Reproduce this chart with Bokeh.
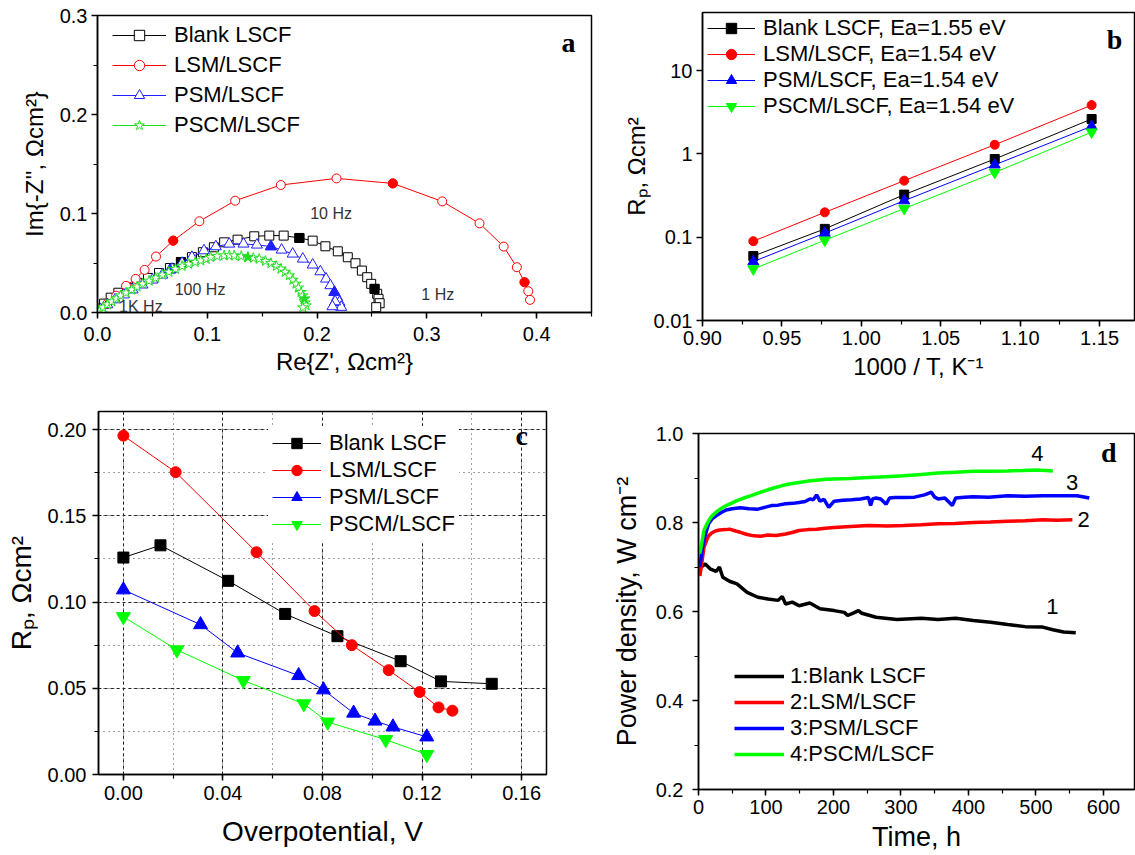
from bokeh.plotting import figure
from bokeh.layouts import column, row
from bokeh.models import (Range1d, SingleIntervalTicker, FixedTicker, PrintfTickFormatter,
                          CustomJSTickFormatter, Legend, LegendItem, Label)
from bokeh.embed import file_html
from bokeh.resources import INLINE

FONT = "Liberation Sans"
SERIF = "Liberation Serif"

# ---------------- data: panel a (Nyquist) ----------------
blank_re = [0.002, 0.006, 0.012, 0.019, 0.027, 0.036, 0.046, 0.056, 0.066, 0.076, 0.086, 0.096, 0.106,
            0.1154, 0.1276, 0.1428, 0.1565, 0.1696, 0.1839, 0.196, 0.2076, 0.2189, 0.228, 0.235,
            0.2408, 0.2457, 0.2493, 0.2524, 0.2548, 0.256, 0.257, 0.2539]
blank_im = [0.004, 0.009, 0.015, 0.020, 0.025, 0.030, 0.035, 0.040, 0.045, 0.051, 0.056, 0.061, 0.066,
            0.071, 0.0737, 0.0771, 0.0778, 0.0778, 0.0754, 0.0727, 0.067, 0.0619, 0.0559, 0.0498,
            0.0424, 0.0357, 0.029, 0.0239, 0.0189, 0.0138, 0.0094, 0.0054]
blank_fre = [0.076, 0.1839, 0.2524]
blank_fim = [0.051, 0.0754, 0.0239]

lsm_re = [0.003, 0.009, 0.017, 0.026, 0.0347, 0.0429, 0.0533, 0.069, 0.0928, 0.1254, 0.167, 0.2177,
          0.269, 0.314, 0.348, 0.370, 0.382, 0.389, 0.3924, 0.394]
lsm_im = [0.003, 0.009, 0.017, 0.027, 0.034, 0.0431, 0.0566, 0.0727, 0.0923, 0.1131, 0.129, 0.1357,
          0.1306, 0.1124, 0.0902, 0.0667, 0.0458, 0.0306, 0.0215, 0.0128]
lsm_fre = [0.069, 0.269, 0.389]
lsm_fim = [0.0727, 0.1306, 0.0306]

psm_re = [0.003, 0.009, 0.016, 0.024, 0.032, 0.041, 0.050, 0.059, 0.068, 0.077, 0.086, 0.097, 0.1078,
          0.12, 0.133, 0.1452, 0.158, 0.1677, 0.1778, 0.187, 0.196, 0.203, 0.2082, 0.2121, 0.2158,
          0.2183, 0.2204, 0.222, 0.2165, 0.214]
psm_im = [0.003, 0.008, 0.013, 0.018, 0.023, 0.028, 0.033, 0.038, 0.044, 0.050, 0.056, 0.0626, 0.0667,
          0.0694, 0.0694, 0.0684, 0.0667, 0.0633, 0.0593, 0.0542, 0.0482, 0.0414, 0.034, 0.0273, 0.0205,
          0.0155, 0.0104, 0.0054, 0.011, 0.006]
psm_fre = [0.066, 0.158, 0.2158]
psm_fim = [0.043, 0.0667, 0.0205]

pscm_re = [0.002, 0.005, 0.009, 0.013, 0.017, 0.021, 0.026, 0.031, 0.036, 0.041, 0.047, 0.053, 0.059,
           0.065, 0.071, 0.077, 0.083, 0.089, 0.094, 0.099, 0.103, 0.109, 0.1154, 0.120, 0.1245, 0.131,
           0.137, 0.142, 0.1473, 0.153, 0.158, 0.163, 0.1671, 0.171, 0.1747, 0.178, 0.1808, 0.183,
           0.1854, 0.187, 0.1884, 0.189, 0.19, 0.187]
pscm_im = [0.002, 0.005, 0.008, 0.011, 0.014, 0.017, 0.020, 0.023, 0.026, 0.029, 0.032, 0.035, 0.038,
           0.041, 0.044, 0.047, 0.049, 0.051, 0.0525, 0.054, 0.0559, 0.057, 0.0576, 0.0578, 0.0576,
           0.057, 0.0559, 0.0552, 0.0542, 0.052, 0.0498, 0.047, 0.0441, 0.041, 0.0374, 0.033, 0.029,
           0.025, 0.0205, 0.017, 0.0138, 0.010, 0.007, 0.005]
pscm_fre = [0.137, 0.1884]
pscm_fim = [0.0559, 0.0138]

# ---------------- data: panel b (Arrhenius) ----------------
inv_t = [0.932, 0.977, 1.027, 1.084, 1.145]
rp_blank = [0.0594, 0.126, 0.325, 0.87, 2.63]
rp_lsm = [0.0896, 0.199, 0.478, 1.29, 3.86]
rp_psm = [0.051, 0.112, 0.275, 0.74, 2.15]
rp_pscm = [0.0416, 0.092, 0.221, 0.60, 1.83]

# ---------------- data: panel c (overpotential) ----------------
eta_blank = [0.0, 0.0149, 0.0421, 0.0650, 0.0860, 0.1114, 0.1276, 0.1480]
rpc_blank = [0.1258, 0.1329, 0.1123, 0.0931, 0.0802, 0.0657, 0.0540, 0.0526]
eta_lsm = [0.0, 0.0210, 0.0535, 0.0768, 0.0918, 0.1066, 0.1190, 0.1266, 0.1322]
rpc_lsm = [0.1965, 0.1753, 0.1289, 0.0948, 0.0750, 0.0605, 0.0478, 0.0389, 0.0370]
eta_psm = [0.0, 0.0310, 0.0459, 0.0704, 0.0804, 0.0925, 0.1011, 0.1083, 0.1219]
rpc_psm = [0.1071, 0.0869, 0.0705, 0.0574, 0.0491, 0.0356, 0.0310, 0.0276, 0.0218]
eta_pscm = [0.0, 0.0215, 0.0482, 0.0725, 0.0821, 0.1054, 0.1219]
rpc_pscm = [0.0915, 0.0723, 0.0545, 0.0410, 0.0304, 0.0202, 0.0116]

# ---------------- data: panel d (stability) ----------------
t1 = [0, 4, 10, 18, 26, 31, 36, 46, 57, 72, 88, 103, 118, 124, 129, 139, 149, 165, 180, 201, 216, 221,
      230, 237, 242, 263, 294, 330, 355, 381, 407, 433, 458, 484, 510, 525, 541, 559]
pd1 = [0.69, 0.70, 0.707, 0.695, 0.69, 0.70, 0.677, 0.668, 0.662, 0.643, 0.632, 0.628, 0.625, 0.634,
       0.617, 0.621, 0.613, 0.619, 0.606, 0.602, 0.598, 0.591, 0.597, 0.602, 0.596, 0.587, 0.582, 0.585,
       0.582, 0.585, 0.580, 0.576, 0.571, 0.566, 0.565, 0.559, 0.554, 0.552]
t2 = [2, 5, 8, 12, 15, 20, 25, 31, 40, 46, 55, 62, 72, 82, 92, 103, 115, 129, 140, 149, 162, 175, 188,
      201, 225, 252, 280, 304, 330, 355, 380, 407, 432, 458, 484, 510, 530, 554]
pd2 = [0.68, 0.71, 0.744, 0.76, 0.770, 0.777, 0.781, 0.783, 0.784, 0.785, 0.781, 0.778, 0.773, 0.770,
       0.769, 0.772, 0.771, 0.774, 0.778, 0.782, 0.784, 0.785, 0.787, 0.789, 0.791, 0.793, 0.792, 0.793,
       0.795, 0.797, 0.798, 0.800, 0.801, 0.803, 0.804, 0.806, 0.805, 0.806]
t3 = [2, 5, 8, 12, 15, 20, 26, 33, 41, 50, 62, 75, 88, 98, 108, 118, 129, 140, 149, 158, 165, 170, 175,
      180, 186, 193, 201, 214, 227, 240, 252, 255, 258, 263, 270, 278, 283, 290, 304, 320, 335, 345,
      350, 355, 365, 376, 381, 394, 407, 430, 458, 484, 510, 535, 561, 579]
pd3 = [0.70, 0.735, 0.76, 0.782, 0.797, 0.808, 0.815, 0.822, 0.828, 0.831, 0.833, 0.831, 0.830, 0.834,
       0.838, 0.839, 0.842, 0.843, 0.845, 0.847, 0.853, 0.851, 0.862, 0.848, 0.852, 0.834, 0.848, 0.850,
       0.851, 0.853, 0.856, 0.838, 0.853, 0.855, 0.853, 0.841, 0.855, 0.856, 0.856, 0.857, 0.862, 0.868,
       0.857, 0.853, 0.855, 0.838, 0.855, 0.857, 0.858, 0.857, 0.860, 0.859, 0.860, 0.860, 0.860, 0.855]
t4 = [2, 5, 8, 12, 15, 20, 26, 33, 41, 50, 57, 67, 77, 88, 98, 110, 124, 137, 149, 162, 175, 188, 201,
      225, 252, 278, 304, 330, 355, 381, 407, 432, 458, 480, 500, 515, 525]
pd4 = [0.73, 0.755, 0.782, 0.795, 0.804, 0.815, 0.823, 0.831, 0.838, 0.844, 0.849, 0.855, 0.860, 0.866,
       0.871, 0.877, 0.883, 0.887, 0.890, 0.893, 0.895, 0.897, 0.898, 0.899, 0.901, 0.903, 0.905, 0.908,
       0.911, 0.913, 0.915, 0.915, 0.916, 0.917, 0.918, 0.917, 0.916]

names = ["Blank LSCF", "LSM/LSCF", "PSM/LSCF", "PSCM/LSCF"]
names_b = ["Blank LSCF, Ea=1.55 eV", "LSM/LSCF, Ea=1.54 eV", "PSM/LSCF, Ea=1.54 eV", "PSCM/LSCF, Ea=1.54 eV"]
names_d = ["1:Blank LSCF", "2:LSM/LSCF", "3:PSM/LSCF", "4:PSCM/LSCF"]

BLACK, RED, BLUE, GREEN = "#000000", "#ff0000", "#0000ff", "#00ff00"
ITEM_H = 26


def style(p, xlabel, ylabel, title_size, xst, yst, xtst, ytst):
    p.outline_line_color = "black"
    p.outline_line_width = 1.5
    p.background_fill_color = "white"
    p.border_fill_color = "white"
    p.xaxis[0].axis_label = xlabel
    p.yaxis[0].axis_label = ylabel
    for ax, st, tst in ((p.xaxis[0], xst, xtst), (p.yaxis[0], yst, ytst)):
        ax.axis_line_width = 1.5
        ax.major_tick_line_width = 1.5
        ax.minor_tick_line_width = 1.2
        ax.major_tick_out = 6
        ax.major_tick_in = 0
        ax.minor_tick_out = 4
        ax.minor_tick_in = 0
        ax.major_label_text_font = FONT
        ax.major_label_text_font_size = "20px"
        ax.major_label_text_color = "black"
        ax.major_label_standoff = st
        ax.axis_label_text_font = FONT
        ax.axis_label_text_font_size = title_size
        ax.axis_label_text_font_style = "normal"
        ax.axis_label_text_color = "black"
        ax.axis_label_standoff = tst
    p.xgrid.visible = False
    p.ygrid.visible = False


def make_legend(items, x, y, gw, spacing, standoff, pad=0, bg=None):
    leg = Legend(items=items, location=(x, y), orientation="vertical",
                 glyph_width=gw, glyph_height=ITEM_H, label_height=ITEM_H, spacing=spacing,
                 label_standoff=standoff, padding=pad, margin=0,
                 label_text_font=FONT, label_text_font_size="22px", label_text_color="black",
                 label_text_baseline="middle", border_line_alpha=0)
    if bg is None:
        leg.background_fill_alpha = 0
    else:
        leg.background_fill_color = bg
        leg.background_fill_alpha = 1
    return leg


def legend_y(frame_h, first_center, pad, spacing, n=4):
    top = first_center - ITEM_H / 2 - pad
    height = 2 * pad + n * ITEM_H + (n - 1) * spacing
    return frame_h - (top + height)


def letter(p, x, y, t):
    p.add_layout(Label(x=x, y=y, text=t, text_font=SERIF, text_font_style="bold",
                       text_font_size="28px", text_align="center", text_baseline="middle",
                       text_color="black"))


# ---------------- panel a ----------------
pa = figure(width=605, height=390, x_range=Range1d(0, 0.45), y_range=Range1d(0, 0.3005),
            output_backend="svg", toolbar_location=None,
            min_border_left=97, min_border_right=14, min_border_top=15, min_border_bottom=78)
style(pa, "Re{Z', Ωcm²}", "Im{-Z'', Ωcm²}", "24px", 8, 4, 4, 9)
for axis in (pa.xaxis[0], pa.yaxis[0]):
    axis.ticker = SingleIntervalTicker(interval=0.1, num_minor_ticks=2)
    axis.formatter = PrintfTickFormatter(format="%.1f")

items_a = []
spec_a = [(blank_re, blank_im, blank_fre, blank_fim, BLACK, "square", 9),
          (lsm_re, lsm_im, lsm_fre, lsm_fim, RED, "circle", 9),
          (psm_re, psm_im, psm_fre, psm_fim, "#2020ff", "triangle", 11),
          (pscm_re, pscm_im, pscm_fre, pscm_fim, "#22dd22", "star", 11)]
for (xs, ys, fx, fy, col, mk, sz), nm in zip(spec_a, names):
    ln = pa.line(xs, ys, line_color=col, line_width=1)
    sc = pa.scatter(xs, ys, marker=mk, size=sz, line_color=col, fill_color="white", line_width=1)
    pa.scatter(fx, fy, marker=mk, size=sz, line_color=col, fill_color=col)
    items_a.append(LegendItem(label=nm, renderers=[ln, sc]))
pa.add_layout(make_legend(items_a, 15, legend_y(297, 20, 0, 4), 54, 4, 8))
for tx, x, y in [("10 Hz", 0.2128, 0.0997), ("1 Hz", 0.310, 0.018), ("100 Hz", 0.0934, 0.0229),
                 ("1K Hz", 0.0395, 0.006)]:
    pa.add_layout(Label(x=x, y=y, text=tx, text_font=FONT, text_font_size="16px",
                        text_color="#333333", text_align="center", text_baseline="middle"))
letter(pa, 0.429, 0.273, "a")

# ---------------- panel b ----------------
pb = figure(width=530, height=390, x_range=Range1d(0.90, 1.172), y_range=Range1d(0.01, 50),
            y_axis_type="log", output_backend="svg", toolbar_location=None,
            min_border_left=97, min_border_right=1, min_border_top=12, min_border_bottom=70)
style(pb, "1000 / T, K⁻¹", "Rₚ, Ωcm²", "24px", 4, 4, 5, 1)
pb.xaxis[0].ticker = SingleIntervalTicker(interval=0.05, num_minor_ticks=2)
pb.xaxis[0].formatter = PrintfTickFormatter(format="%.2f")
pb.yaxis[0].ticker = FixedTicker(ticks=[0.01, 0.1, 1, 10], minor_ticks=[])
pb.yaxis[0].formatter = CustomJSTickFormatter(code="return String(tick);")
items_b = []
for ys, col, mk, sz, nm in [(rp_blank, BLACK, "square", 9, names_b[0]), (rp_lsm, RED, "circle", 9, names_b[1]),
                            (rp_psm, BLUE, "triangle", 11, names_b[2]),
                            (rp_pscm, GREEN, "inverted_triangle", 11, names_b[3])]:
    ln = pb.line(inv_t, ys, line_color=col, line_width=1)
    sc = pb.scatter(inv_t, ys, marker=mk, size=sz, line_color=col, fill_color=col)
    items_b.append(LegendItem(label=nm, renderers=[ln, sc]))
pb.add_layout(make_legend(items_b, 5, legend_y(308, 16, 0, 0), 48, 0, 8))
letter(pb, 1.1595, 24, "b")

# ---------------- panel c ----------------
pc = figure(width=590, height=465, x_range=Range1d(-0.01, 0.17), y_range=Range1d(0, 0.2105),
            output_backend="svg", toolbar_location=None,
            min_border_left=98, min_border_right=44, min_border_top=21, min_border_bottom=81)
style(pc, "Overpotential, V", "Rₚ, Ωcm²", "28px", 5, 6, 13, 8)
pc.xaxis[0].ticker = SingleIntervalTicker(interval=0.04, num_minor_ticks=2)
pc.xaxis[0].formatter = PrintfTickFormatter(format="%.2f")
pc.yaxis[0].ticker = SingleIntervalTicker(interval=0.05, num_minor_ticks=2)
pc.yaxis[0].formatter = PrintfTickFormatter(format="%.2f")
for g in (pc.xgrid, pc.ygrid):
    g.visible = True
    g.grid_line_color = "#222222"
    g.grid_line_dash = "3 3"
    g.grid_line_width = 1
    g.minor_grid_line_color = "#444444"
    g.minor_grid_line_dash = "1 4"
    g.minor_grid_line_width = 1
items_c = []
for xs, ys, col, mk, sz, nm in [(eta_blank, rpc_blank, BLACK, "square", 11, names[0]),
                                (eta_lsm, rpc_lsm, RED, "circle", 11, names[1]),
                                (eta_psm, rpc_psm, BLUE, "triangle", 14, names[2]),
                                (eta_pscm, rpc_pscm, GREEN, "inverted_triangle", 14, names[3])]:
    ln = pc.line(xs, ys, line_color=col, line_width=1)
    sc = pc.scatter(xs, ys, marker=mk, size=sz, line_color=col, fill_color=col)
    items_c.append(LegendItem(label=nm, renderers=[ln, sc]))
pc.add_layout(make_legend(items_c, 170, legend_y(363, 31.7, 4, 1), 49, 1, 8, pad=4, bg="white"))
letter(pc, 0.160, 0.1965, "c")

# ---------------- panel d ----------------
pdd = figure(width=545, height=465, x_range=Range1d(0, 646), y_range=Range1d(0.2, 1.0),
             output_backend="svg", toolbar_location=None,
             min_border_left=108, min_border_right=1, min_border_top=43, min_border_bottom=66)
style(pdd, "Time, h", "Power density, W cm⁻²", "27px", 4, 9, 5, 11)
pdd.xaxis[0].ticker = SingleIntervalTicker(interval=100, num_minor_ticks=2)
pdd.yaxis[0].ticker = SingleIntervalTicker(interval=0.2, num_minor_ticks=2)
pdd.yaxis[0].formatter = PrintfTickFormatter(format="%.1f")
items_d = []
for xs, ys, col, nm in [(t1, pd1, BLACK, names_d[0]), (t2, pd2, RED, names_d[1]),
                        (t3, pd3, BLUE, names_d[2]), (t4, pd4, GREEN, names_d[3])]:
    ln = pdd.line(xs, ys, line_color=col, line_width=3.5)
    items_d.append(LegendItem(label=nm, renderers=[ln]))
pdd.add_layout(make_legend(items_d, 36, legend_y(356.6, 243.3, 0, 0), 50, 0, 6))
for tx, x, y in [("4", 502, 0.954), ("3", 553.6, 0.890), ("2", 570.7, 0.806), ("1", 524.3, 0.611)]:
    pdd.add_layout(Label(x=x, y=y, text=tx, text_font=FONT, text_font_size="22px",
                         text_color="black", text_align="center", text_baseline="middle"))
letter(pdd, 608, 0.957, "d")

layout = column(row(column(pa), column(pb)), row(column(pc), column(pdd)))
open("out.html", "w").write(file_html(layout, INLINE))
